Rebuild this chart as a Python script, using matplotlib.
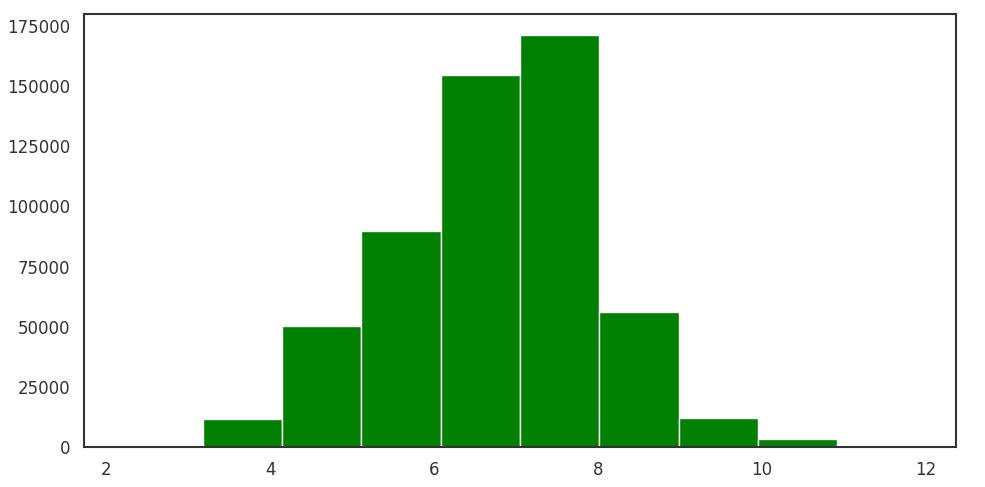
import numpy as np
import matplotlib.pyplot as plt
import seaborn as sns
from matplotlib.ticker import MultipleLocator

# histogram: 10 equal bins between these edges
bin_lo = 2.21
bin_hi = 11.89
counts = [40, 11700, 50200, 89600, 154700, 171300, 56000, 12100, 3300, 20]

edges = np.linspace(bin_lo, bin_hi, len(counts) + 1)
centers = (edges[:-1] + edges[1:]) / 2

sns.set_style('white')
plt.rcParams['font.family'] = ['DejaVu Sans']

fig = plt.figure(figsize=(9.85, 4.87), dpi=100)
ax = fig.add_axes([0.0853, 0.082, 0.8853, 0.889])
ax.hist(centers, bins=edges, weights=counts, color='green', edgecolor='white', linewidth=1)
ax.yaxis.set_major_locator(MultipleLocator(25000))
ax.tick_params(labelsize=12, colors='.2', length=0, pad=10)
for s in ax.spines.values():
    s.set_linewidth(1.5)
    s.set_color('.2')

plt.savefig('out.png')
